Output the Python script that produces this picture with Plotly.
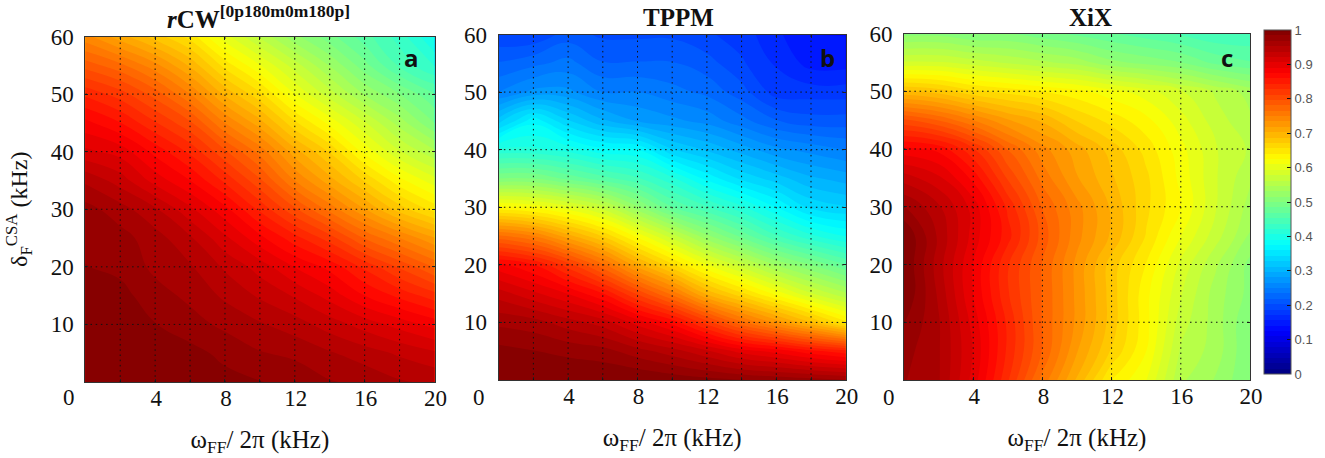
import plotly.graph_objects as go

x_khz = [0, 2, 4, 6, 8, 10, 12, 14, 16, 18, 20]
y_khz = [0, 5, 10, 15, 20, 25, 30, 35, 40, 45, 50, 55, 60]

rcw_vals = [
    [1, 1, 1, .995, .99, .985, .98, .97, .965, .955, .95],
    [1, 1, .995, .99, .98, .97, .965, .955, .945, .935, .925],
    [1, .995, .985, .975, .965, .955, .945, .93, .915, .90, .885],
    [.995, .99, .975, .965, .95, .935, .92, .90, .875, .855, .835],
    [.985, .98, .965, .955, .935, .915, .89, .87, .84, .81, .78],
    [.98, .975, .96, .94, .91, .88, .85, .82, .78, .75, .72],
    [.975, .96, .94, .91, .88, .84, .80, .76, .72, .68, .65],
    [.95, .93, .90, .875, .84, .80, .75, .71, .67, .63, .60],
    [.91, .90, .87, .84, .80, .76, .71, .67, .62, .58, .55],
    [.88, .86, .83, .80, .75, .71, .66, .62, .58, .54, .50],
    [.84, .82, .79, .75, .70, .66, .61, .57, .53, .50, .47],
    [.79, .77, .74, .70, .65, .61, .57, .53, .49, .45, .42],
    [.74, .71, .68, .65, .60, .56, .52, .49, .46, .43, .39],
]
tppm_vals = [
    [1, 1, 1, 1, 1, .995, .99, .985, .98, .975, .97],
    [.99, .985, .98, .975, .96, .945, .925, .90, .885, .865, .85],
    [.965, .96, .945, .93, .90, .87, .82, .77, .73, .69, .645],
    [.93, .91, .89, .86, .81, .76, .70, .66, .62, .58, .55],
    [.88, .86, .82, .77, .71, .66, .61, .57, .53, .50, .47],
    [.77, .75, .71, .67, .62, .57, .52, .48, .44, .41, .39],
    [.63, .62, .60, .57, .52, .47, .44, .41, .375, .34, .33],
    [.50, .50, .48, .46, .44, .41, .37, .34, .32, .30, .29],
    [.41, .41, .40, .38, .375, .33, .31, .29, .27, .26, .25],
    [.32, .37, .33, .30, .28, .27, .26, .24, .22, .21, .21],
    [.25, .27, .27, .25, .25, .24, .23, .21, .18, .18, .18],
    [.22, .23, .24, .22, .22, .22, .21, .19, .17, .15, .15],
    [.19, .19, .21, .20, .20, .20, .19, .18, .16, .14, .14],
]
xix_vals = [
    [.97, .955, .90, .83, .76, .70, .64, .61, .55, .53, .50],
    [.975, .955, .905, .84, .78, .72, .67, .625, .56, .54, .50],
    [.985, .955, .90, .84, .78, .73, .68, .63, .57, .54, .50],
    [1, .95, .89, .83, .78, .73, .68, .63, .58, .54, .51],
    [1, .945, .89, .83, .78, .73, .68, .64, .59, .55, .51],
    [1, .95, .90, .85, .79, .74, .70, .655, .61, .57, .53],
    [.97, .94, .90, .84, .78, .74, .70, .66, .625, .58, .54],
    [.93, .91, .87, .81, .76, .72, .69, .66, .62, .58, .55],
    [.88, .87, .83, .78, .74, .71, .68, .65, .615, .58, .56],
    [.80, .78, .75, .72, .70, .67, .65, .63, .60, .57, .55],
    [.69, .68, .66, .65, .64, .63, .615, .60, .58, .56, .54],
    [.58, .58, .57, .56, .55, .54, .52, .51, .50, .48, .47],
    [.51, .51, .50, .50, .49, .48, .47, .46, .45, .44, .44],
]
panel_titles = ["<i>r</i>CW<sup>[0p180m0m180p]</sup>", "TPPM", "XiX"]
panel_letters = ["a", "b", "c"]
x_labels = {4: "4", 8: "8", 12: "12", 16: "16", 20: "20"}
y_ticks = [10, 20, 30, 40, 50, 60]
cbar_ticks = [0, .1, .2, .3, .4, .5, .6, .7, .8, .9, 1]
cbar_labels = ["0", "0.1", "0.2", "0.3", "0.4", "0.5", "0.6", "0.7", "0.8", "0.9", "1"]
grid_x = [[2, 4, 6, 8, 10, 12, 14, 16, 18], [2, 4, 6, 8, 10, 12, 14, 16, 18], [4, 8, 12, 16]]
grid_y = [10, 20, 30, 40, 50]

W, H = 1325, 458
boxes = [(85.3, 434.5, 36.5, 382), (498.7, 845.7, 34.5, 380), (904, 1250, 33.5, 380)]
jet = [[0, "rgb(0,0,127)"], [.125, "rgb(0,0,255)"], [.375, "rgb(0,255,255)"],
       [.625, "rgb(255,255,0)"], [.875, "rgb(255,0,0)"], [1, "rgb(127,0,0)"]]
SERIF = "Liberation Serif, Times New Roman, serif"

fig = go.Figure()
layout = dict(width=W, height=H, margin=dict(l=0, r=0, t=0, b=0, autoexpand=False), showlegend=False,
              paper_bgcolor="white", plot_bgcolor="white", font=dict(family=SERIF, color="#111"))
annotations, shapes = [], []


def note(text, px, py, size, family):
    return dict(text=text, xref="paper", yref="paper", x=px / W, y=1 - py / H,
                xanchor="center", yanchor="middle", showarrow=False,
                font=dict(size=size, family=family, color="#111"))


for i, z in enumerate([rcw_vals, tppm_vals, xix_vals]):
    n = "" if i == 0 else str(i + 1)
    l, r, t, b = boxes[i]
    trace = dict(
        x=x_khz, y=y_khz, z=z, xaxis="x" + n, yaxis="y" + n, zmin=0, zmax=1,
        colorscale=jet, autocontour=False,
        contours=dict(start=0, end=1, size=1 / 64, coloring="fill", showlines=False),
        line=dict(width=0, smoothing=1.3), hoverinfo="skip", showscale=i == 2,
    )
    if i == 2:
        trace["colorbar"] = dict(
            x=1264.3 / W, xanchor="left", y=1 - 374 / H, yanchor="bottom",
            lenmode="pixels", len=344, thicknessmode="pixels", thickness=27, xpad=0, ypad=0,
            outlinecolor="#555", outlinewidth=1, tickvals=cbar_ticks, ticktext=cbar_labels,
            ticks="inside", ticklen=4, tickcolor="#111", ticklabelposition="outside",
            tickfont=dict(family="Liberation Sans, Arial, sans-serif", size=13, color="#555"),
        )
    fig.add_trace(go.Contour(**trace))

    tick_x = grid_x[i] + [20]
    layout["xaxis" + n] = dict(
        domain=[l / W, r / W], range=[0, 20], anchor="y" + n, tickmode="array", automargin=False,
        tickvals=tick_x, ticktext=[x_labels.get(v, "") for v in tick_x],
        ticks="inside", ticklen=3, tickcolor="#222", showgrid=False, zeroline=False,
        showline=True, linecolor="#333", linewidth=1, mirror="ticks",
        tickfont=dict(size=23, family=SERIF), ticklabelstandoff=-5, ticklabelshift=1,
        title=dict(text="ω<sub>FF</sub>/ 2π (kHz)", font=dict(size=25, family=SERIF), standoff=20),
    )
    layout["yaxis" + n] = dict(
        domain=[1 - b / H, 1 - t / H], range=[0, 60], anchor="x" + n, tickmode="array", automargin=False,
        tickvals=y_ticks, ticktext=[str(v) for v in y_ticks],
        ticks="inside", ticklen=3, tickcolor="#222", showgrid=False, zeroline=False,
        showline=True, linecolor="#333", linewidth=1, mirror="ticks",
        tickfont=dict(size=23, family=SERIF), ticklabelstandoff=6,
    )
    if i == 0:
        layout["yaxis"]["title"] = dict(text="δ<sub>F</sub><sup>CSA</sup> (kHz)",
                                        font=dict(size=24, family=SERIF), standoff=16)
    dot = dict(color="#111", width=1, dash="1.5px,3.7px")
    for v in grid_x[i]:
        shapes.append(dict(type="line", xref="x" + n, yref="y" + n, x0=v, x1=v, y0=0, y1=60,
                           line=dot, layer="above"))
    for v in grid_y:
        shapes.append(dict(type="line", xref="x" + n, yref="y" + n, x0=0, x1=20, y0=v, y1=v,
                           line=dot, layer="above"))
    annotations.append(note("<b>%s</b>" % panel_titles[i], [258, 678, 1090][i], 17, 25, SERIF))
    annotations.append(note("<b>%s</b>" % panel_letters[i], [411, 827, 1227][i], 57, 24,
                            "Open Sans, sans-serif"))
    annotations.append(note("0", [69, 479, 889][i], 397, 23, SERIF))

layout["annotations"] = annotations
layout["shapes"] = shapes
fig.update_layout(**layout)
fig.write_html("out.html", post_script="document.body.style.margin='0';",
               config=dict(displayModeBar=False))
